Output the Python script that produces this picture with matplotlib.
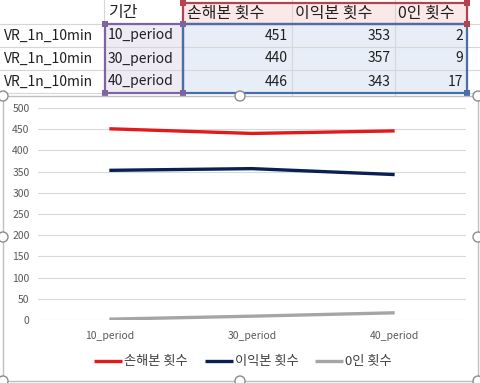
import matplotlib
matplotlib.use("Agg")
import matplotlib.pyplot as plt
from matplotlib.patches import Rectangle, Circle

plt.rcParams['font.family'] = ['Noto Sans CJK KR', 'DejaVu Sans']

row_label = "VR_1n_10min"
header_period = "기간"
categories = ["10_period", "30_period", "40_period"]
series_names = ["손해본 횟수", "이익본 횟수", "0인 횟수"]
loss_counts = [451, 440, 446]
gain_counts = [353, 357, 343]
zero_counts = [2, 9, 17]
series_values = [loss_counts, gain_counts, zero_counts]
series_colors = ["#E31A1C", "#0A1F52", "#A5A5A5"]
y_ticks = [0, 50, 100, 150, 200, 250, 300, 350, 400, 450, 500]

W, H = 481, 383
fig = plt.figure(figsize=(W / 100, H / 100), dpi=100)

# ---- spreadsheet overlay (pixel coordinates) ----
bg = fig.add_axes([0, 0, 1, 1])
bg.set_xlim(0, W)
bg.set_ylim(H, 0)
bg.axis("off")

col_edges = [0, 104, 183, 292, 395, 467, 481]
row_edges = [0, 24, 47, 70, 93]
bg.add_patch(Rectangle((183, 3), 284, 21, facecolor="#FBE9EA", edgecolor="none", zorder=1))
bg.add_patch(Rectangle((105, 24), 78, 69, facecolor="#EFEBF5", edgecolor="none", zorder=1))
bg.add_patch(Rectangle((183, 24), 284, 69, facecolor="#E7EEF8", edgecolor="none", zorder=1))
for xx in col_edges[1:-1]:
    bg.plot([xx, xx], [0, 96], color="#D6D6D6", lw=0.8, zorder=2)
for yy in row_edges[1:]:
    bg.plot([0, W], [yy, yy], color="#D6D6D6", lw=0.8, zorder=2)
bg.add_patch(Rectangle((183, 3), 284, 21, facecolor="none", edgecolor="#B5434F", lw=1.6, zorder=3))
bg.add_patch(Rectangle((105, 24), 78, 69, facecolor="none", edgecolor="#8064A2", lw=1.6, zorder=3))
bg.add_patch(Rectangle((183, 24), 284, 69, facecolor="none", edgecolor="#4A6FA5", lw=1.6, zorder=3))
for (cx, cy, c) in [(183, 3, "#B5434F"), (467, 3, "#B5434F"), (467, 24, "#B5434F"),
                    (105, 24, "#8064A2"), (183, 24, "#8064A2"), (105, 93, "#8064A2"),
                    (183, 93, "#8064A2"), (467, 93, "#4A6FA5")]:
    bg.add_patch(Rectangle((cx - 3, cy - 3), 6, 6, facecolor=c, edgecolor="none", zorder=4))

fs = 10
fs_kr = 11.5
tc = "#1F1F1F"
bg.text(108, 13, header_period, fontsize=fs_kr, color=tc, va="center", ha="left", zorder=5)
hdr_x = [187, 295, 398]
for xx, name in zip(hdr_x, series_names):
    bg.text(xx, 13, name, fontsize=fs_kr, color=tc, va="center", ha="left", zorder=5)
row_y = [35.5, 58.5, 81.5]
val_right = [288, 391, 463]
for i, cat in enumerate(categories):
    bg.text(4, row_y[i], row_label, fontsize=fs, color=tc, va="center", ha="left", zorder=5)
    bg.text(108, row_y[i], cat, fontsize=fs, color=tc, va="center", ha="left", zorder=5)
    for j, vals in enumerate(series_values):
        bg.text(val_right[j], row_y[i], str(vals[i]), fontsize=fs, color=tc,
                va="center", ha="right", zorder=5)

bg.add_patch(Rectangle((3, 96), 475, 285, facecolor="white", edgecolor="#BFBFBF", lw=1.0, zorder=6))
for (cx, cy) in [(3, 96), (240, 96), (478, 96), (3, 237), (478, 237),
                 (3, 381), (240, 381), (478, 381)]:
    bg.add_patch(Circle((cx, cy), 5, facecolor="white", edgecolor="#8C8C8C", lw=1.0, zorder=7))

# ---- chart plot area ----
left_px, right_px, top_px, bottom_px = 38, 466, 108, 320
ax = fig.add_axes([left_px / W, 1 - bottom_px / H, (right_px - left_px) / W,
                   (bottom_px - top_px) / H])
ax.set_zorder(10)
ax.patch.set_alpha(0)
x = list(range(len(categories)))
for name, vals, col in zip(series_names, series_values, series_colors):
    ax.plot(x, vals, color=col, lw=2.4, label=name, solid_capstyle="butt")
ax.set_xlim(-0.5, len(categories) - 0.5)
ax.set_ylim(0, 500)
ax.set_yticks(y_ticks)
ax.set_xticks(x)
ax.set_xticklabels(categories)
ax.grid(axis="y", color="#D9D9D9", lw=0.8)
ax.set_axisbelow(True)
for s in ax.spines.values():
    s.set_visible(False)
ax.tick_params(axis="both", length=0, labelsize=7.5, labelcolor="#595959")
ax.tick_params(axis="y", pad=6)
ax.tick_params(axis="x", pad=8)

leg = ax.legend(loc="center", bbox_to_anchor=((243 - 38) / 428, (320 - 362) / 212), ncol=3,
                frameon=False, fontsize=9.5, handlelength=2.1, handletextpad=0.15,
                columnspacing=1.3, labelcolor="#404040")

fig.savefig("out.png", dpi=100)
